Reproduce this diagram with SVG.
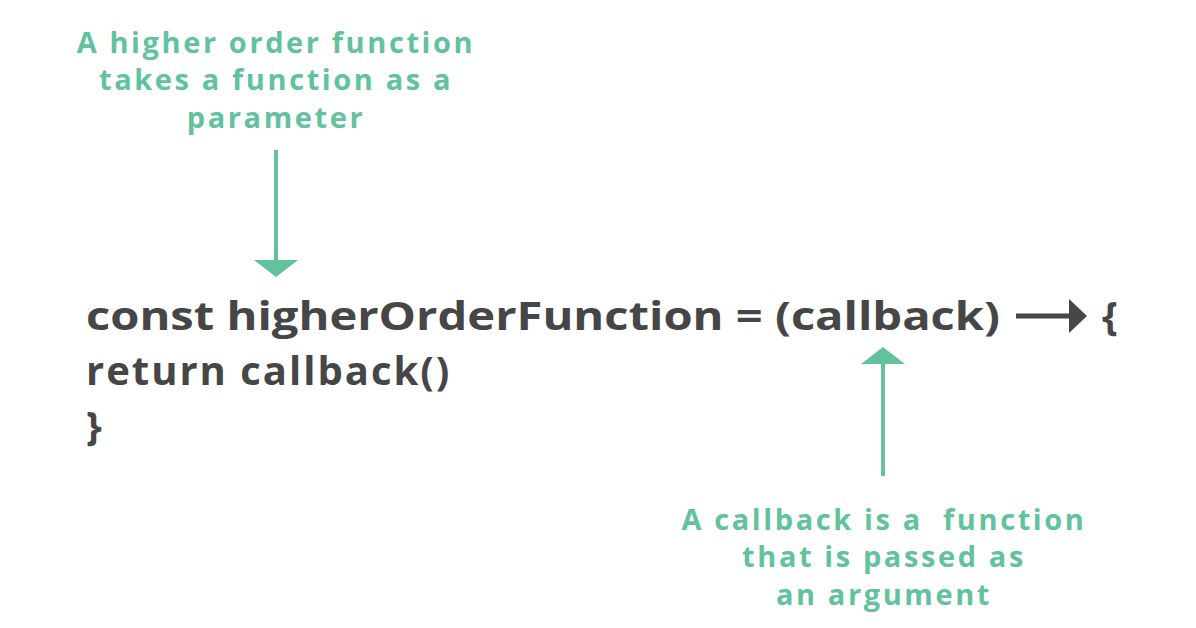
<svg xmlns="http://www.w3.org/2000/svg" width="1196" height="628" viewBox="0 0 1196 628">
<style>
.code{font-family:"Open Sans","DejaVu Sans",sans-serif;font-weight:bold;font-size:40px;fill:#464646}
.note{font-family:"Open Sans","DejaVu Sans",sans-serif;font-weight:bold;font-size:29px;letter-spacing:2.6px;fill:#62c29e;text-anchor:middle}
</style>
<rect width="1196" height="628" fill="#ffffff"/>
<g id="code">
<text class="code" x="86" y="330" textLength="914" lengthAdjust="spacingAndGlyphs">const higherOrderFunction = (callback)</text>
<text class="code" x="1102" y="330">{</text>
<text class="code" x="86" y="385" style="letter-spacing:2px">return callback()</text>
<text class="code" x="86" y="440">}</text>
</g>
<g id="note-top">
<text class="note" x="276" y="53">A higher order function</text>
<text class="note" x="276" y="90">takes a function as a</text>
<text class="note" x="276" y="128">parameter</text>
</g>
<g id="note-bottom">
<text class="note" x="884" y="530" xml:space="preserve">A callback is a  function</text>
<text class="note" x="884" y="567">that is passed as</text>
<text class="note" x="884" y="605">an argument</text>
</g>
<g id="connectors">
<line x1="276" y1="150" x2="276" y2="262" stroke="#62c29e" stroke-width="4"/>
<polygon points="254,260 298,260 276,277" fill="#62c29e"/>
<line x1="883" y1="476" x2="883" y2="362" stroke="#62c29e" stroke-width="4"/>
<polygon points="861,364 905,364 883,347" fill="#62c29e"/>
<line x1="1016" y1="316" x2="1072" y2="316" stroke="#464646" stroke-width="5"/>
<polygon points="1069,299 1087,316 1069,333" fill="#464646"/>
</g>
</svg>
